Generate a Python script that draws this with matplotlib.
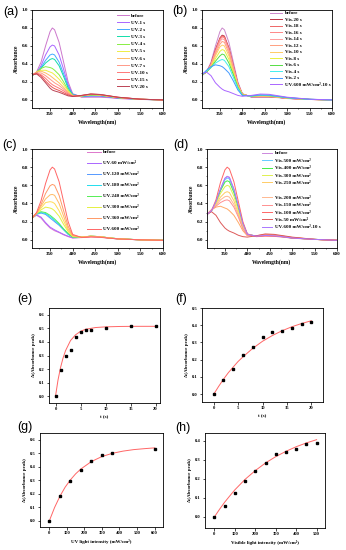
import matplotlib.pyplot as plt
from matplotlib.lines import Line2D
from matplotlib.ticker import MultipleLocator

plt.rcParams['font.family'] = ['Liberation Serif', 'DejaVu Serif']
plt.rcParams['font.weight'] = 'bold'

# wavelength grid (nm) shared by all spectra
wavelength = [310, 320, 330, 340, 350, 355, 360, 370, 380, 390, 400, 420, 440, 460, 480, 500, 550, 600]

# (a) UV irradiation time
a_labels = ['before', 'UV-1 s', 'UV-2 s', 'UV-3 s', 'UV-4 s', 'UV-5 s', 'UV-6 s',
            'UV-7 s', 'UV-10 s', 'UV-15 s', 'UV-20 s']
a_colors = ['#cc77cc', '#aa66ff', '#44aaff', '#11ddaa', '#88ee44', '#eeee44', '#ffbb66',
            '#ff9988', '#ff7777', '#ee5555', '#bb4455']
a_curves = [
    [0.27, 0.31, 0.42, 0.60, 0.76, 0.80, 0.78, 0.64, 0.42, 0.20, 0.07, 0.03, 0.03, 0.03, 0.025, 0.015, 0.005, 0.0],
    [0.27, 0.30, 0.38, 0.50, 0.59, 0.61, 0.60, 0.50, 0.34, 0.17, 0.06, 0.035, 0.04, 0.04, 0.03, 0.02, 0.006, 0.0],
    [0.27, 0.30, 0.36, 0.44, 0.50, 0.51, 0.50, 0.42, 0.29, 0.15, 0.06, 0.04, 0.045, 0.045, 0.035, 0.022, 0.006, 0.0],
    [0.27, 0.30, 0.35, 0.41, 0.45, 0.46, 0.45, 0.38, 0.26, 0.13, 0.055, 0.04, 0.05, 0.05, 0.038, 0.024, 0.007, 0.0],
    [0.27, 0.31, 0.35, 0.37, 0.36, 0.35, 0.33, 0.28, 0.20, 0.11, 0.05, 0.045, 0.055, 0.052, 0.04, 0.025, 0.007, 0.0],
    [0.27, 0.31, 0.33, 0.33, 0.31, 0.30, 0.28, 0.23, 0.17, 0.10, 0.05, 0.045, 0.057, 0.054, 0.04, 0.026, 0.007, 0.0],
    [0.27, 0.31, 0.32, 0.30, 0.27, 0.25, 0.23, 0.19, 0.14, 0.085, 0.045, 0.045, 0.06, 0.056, 0.042, 0.027, 0.007, 0.0],
    [0.28, 0.30, 0.30, 0.27, 0.23, 0.21, 0.19, 0.16, 0.12, 0.075, 0.045, 0.047, 0.062, 0.058, 0.043, 0.028, 0.008, 0.0],
    [0.28, 0.30, 0.28, 0.24, 0.19, 0.17, 0.155, 0.13, 0.10, 0.065, 0.04, 0.048, 0.063, 0.059, 0.044, 0.029, 0.008, 0.0],
    [0.28, 0.29, 0.27, 0.21, 0.16, 0.14, 0.125, 0.105, 0.08, 0.055, 0.04, 0.05, 0.065, 0.06, 0.045, 0.03, 0.008, 0.0],
    [0.28, 0.29, 0.25, 0.19, 0.13, 0.11, 0.10, 0.085, 0.065, 0.045, 0.038, 0.05, 0.066, 0.061, 0.046, 0.03, 0.008, 0.0],
]

# (b) visible light recovery time
b_labels = ['before', 'Vis-20 s', 'Vis-18 s', 'Vis-16 s', 'Vis-14 s', 'Vis-12 s', 'Vis-10 s',
            'Vis-8 s', 'Vis-6 s', 'Vis-4 s', 'Vis-2 s', 'UV-600 mW/cm²-10 s']
b_colors = ['#cc88cc', '#bb3344', '#ee6666', '#ff8888', '#ff9f9f', '#ffa080', '#ffcc66',
            '#e8f040', '#55dd44', '#44eeee', '#4499ff', '#aa66ff']
b_curves = [
    [0.27, 0.31, 0.42, 0.60, 0.76, 0.80, 0.78, 0.64, 0.42, 0.20, 0.07, 0.03, 0.03, 0.03, 0.025, 0.015, 0.005, 0.0],
    [0.28, 0.31, 0.40, 0.56, 0.69, 0.72, 0.71, 0.58, 0.38, 0.18, 0.065, 0.035, 0.035, 0.035, 0.028, 0.017, 0.005, 0.0],
    [0.28, 0.31, 0.40, 0.55, 0.68, 0.71, 0.70, 0.57, 0.37, 0.18, 0.065, 0.035, 0.036, 0.036, 0.029, 0.018, 0.005, 0.0],
    [0.28, 0.31, 0.39, 0.54, 0.67, 0.70, 0.69, 0.56, 0.37, 0.18, 0.065, 0.036, 0.037, 0.037, 0.03, 0.018, 0.005, 0.0],
    [0.28, 0.31, 0.39, 0.53, 0.65, 0.68, 0.67, 0.55, 0.36, 0.17, 0.06, 0.037, 0.04, 0.038, 0.03, 0.019, 0.005, 0.0],
    [0.28, 0.31, 0.38, 0.51, 0.62, 0.65, 0.64, 0.52, 0.34, 0.17, 0.06, 0.038, 0.042, 0.04, 0.031, 0.02, 0.006, 0.0],
    [0.28, 0.31, 0.37, 0.49, 0.59, 0.61, 0.60, 0.49, 0.32, 0.16, 0.06, 0.04, 0.045, 0.042, 0.032, 0.021, 0.006, 0.0],
    [0.28, 0.31, 0.36, 0.46, 0.54, 0.56, 0.55, 0.45, 0.30, 0.15, 0.055, 0.04, 0.048, 0.045, 0.034, 0.022, 0.006, 0.0],
    [0.28, 0.31, 0.36, 0.43, 0.49, 0.51, 0.50, 0.41, 0.28, 0.14, 0.055, 0.042, 0.05, 0.047, 0.036, 0.023, 0.006, 0.0],
    [0.28, 0.32, 0.36, 0.41, 0.44, 0.45, 0.44, 0.37, 0.25, 0.13, 0.05, 0.043, 0.053, 0.05, 0.038, 0.025, 0.007, 0.0],
    [0.28, 0.33, 0.37, 0.39, 0.38, 0.37, 0.35, 0.30, 0.21, 0.11, 0.05, 0.045, 0.056, 0.053, 0.04, 0.026, 0.007, 0.0],
    [0.29, 0.31, 0.27, 0.19, 0.14, 0.12, 0.105, 0.09, 0.07, 0.05, 0.04, 0.05, 0.065, 0.062, 0.046, 0.03, 0.008, 0.0],
]

# (c) UV light intensity (None = not in legend)
c_labels = ['before', 'UV-60 mW/cm²', 'UV-120 mW/cm²', 'UV-180 mW/cm²', 'UV-240 mW/cm²',
            'UV-300 mW/cm²', None, None, 'UV-360 mW/cm²', 'UV-600 mW/cm²']
c_colors = ['#dd77cc', '#aa66ff', '#5599ff', '#22ddee', '#55ee55', '#e5f040', '#ffdd55',
            '#ffbb66', '#ff9966', '#ff6666']
c_curves = [
    [0.24, 0.27, 0.24, 0.18, 0.13, 0.115, 0.10, 0.08, 0.055, 0.035, 0.02, 0.025, 0.035, 0.03, 0.02, 0.01, 0.0, -0.005],
    [0.24, 0.275, 0.25, 0.19, 0.14, 0.125, 0.11, 0.085, 0.06, 0.04, 0.022, 0.026, 0.037, 0.032, 0.02, 0.01, 0.0, -0.005],
    [0.24, 0.28, 0.295, 0.28, 0.24, 0.22, 0.20, 0.16, 0.11, 0.06, 0.03, 0.03, 0.04, 0.035, 0.022, 0.012, 0.0, -0.005],
    [0.24, 0.285, 0.30, 0.29, 0.255, 0.235, 0.215, 0.17, 0.115, 0.065, 0.03, 0.03, 0.04, 0.035, 0.022, 0.012, 0.0, -0.005],
    [0.24, 0.29, 0.31, 0.30, 0.27, 0.25, 0.23, 0.18, 0.12, 0.07, 0.03, 0.03, 0.04, 0.035, 0.022, 0.012, 0.0, -0.005],
    [0.24, 0.29, 0.33, 0.36, 0.35, 0.34, 0.32, 0.26, 0.17, 0.09, 0.035, 0.03, 0.04, 0.035, 0.022, 0.012, 0.0, -0.005],
    [0.24, 0.29, 0.35, 0.41, 0.42, 0.415, 0.40, 0.32, 0.21, 0.10, 0.04, 0.03, 0.04, 0.035, 0.022, 0.012, 0.0, -0.005],
    [0.24, 0.29, 0.37, 0.45, 0.495, 0.50, 0.49, 0.40, 0.26, 0.12, 0.045, 0.03, 0.04, 0.035, 0.022, 0.012, 0.0, -0.005],
    [0.24, 0.29, 0.39, 0.51, 0.595, 0.61, 0.60, 0.49, 0.32, 0.15, 0.05, 0.028, 0.037, 0.033, 0.02, 0.01, 0.0, -0.005],
    [0.24, 0.30, 0.43, 0.62, 0.77, 0.80, 0.78, 0.64, 0.42, 0.20, 0.06, 0.025, 0.03, 0.028, 0.018, 0.01, 0.0, -0.005],
]

# (d) visible light intensity ('' = blank legend row)
d_labels = ['before', 'Vis-500 mW/cm²', 'Vis-400 mW/cm²', 'Vis-300 mW/cm²', 'Vis-250 mW/cm²', '',
            'Vis-200 mW/cm²', 'Vis-150 mW/cm²', 'Vis-100 mW/cm²', 'Vis-50 mW/cm²', 'UV-600 mW/cm²-10 s']
d_colors = ['#cc88dd', '#66ccff', '#44ee44', '#e0f050', '#ffcc66', '#ffaa66',
            '#ffb890', '#ff9090', '#ff6666', '#dd5a5a', '#aa77ff']
d_curves = [
    [0.28, 0.32, 0.42, 0.56, 0.68, 0.70, 0.69, 0.56, 0.37, 0.18, 0.063, 0.04, 0.048, 0.044, 0.033, 0.02, 0.005, -0.005],
    [0.28, 0.32, 0.41, 0.55, 0.66, 0.68, 0.67, 0.55, 0.36, 0.175, 0.062, 0.04, 0.049, 0.045, 0.034, 0.02, 0.005, -0.005],
    [0.28, 0.32, 0.41, 0.54, 0.635, 0.65, 0.64, 0.52, 0.35, 0.17, 0.06, 0.04, 0.05, 0.046, 0.035, 0.021, 0.005, -0.005],
    [0.28, 0.32, 0.40, 0.51, 0.585, 0.60, 0.59, 0.48, 0.32, 0.16, 0.06, 0.042, 0.052, 0.048, 0.036, 0.022, 0.005, -0.005],
    [0.28, 0.33, 0.39, 0.47, 0.52, 0.53, 0.52, 0.43, 0.29, 0.14, 0.055, 0.043, 0.054, 0.05, 0.037, 0.023, 0.005, -0.005],
    [0.28, 0.33, 0.36, 0.37, 0.35, 0.34, 0.32, 0.27, 0.19, 0.10, 0.045, 0.045, 0.058, 0.053, 0.04, 0.026, 0.005, -0.005],
    [0.28, 0.33, 0.38, 0.44, 0.475, 0.48, 0.47, 0.39, 0.27, 0.13, 0.05, 0.044, 0.055, 0.05, 0.038, 0.024, 0.005, -0.005],
    [0.28, 0.33, 0.37, 0.41, 0.435, 0.44, 0.43, 0.36, 0.25, 0.12, 0.05, 0.045, 0.056, 0.052, 0.04, 0.025, 0.005, -0.005],
    [0.28, 0.32, 0.44, 0.63, 0.77, 0.80, 0.78, 0.64, 0.42, 0.20, 0.065, 0.035, 0.04, 0.038, 0.03, 0.018, 0.004, -0.005],
    [0.28, 0.31, 0.27, 0.19, 0.13, 0.11, 0.095, 0.075, 0.05, 0.035, 0.03, 0.045, 0.065, 0.06, 0.045, 0.03, 0.005, -0.005],
    [0.28, 0.32, 0.42, 0.555, 0.675, 0.695, 0.685, 0.555, 0.365, 0.178, 0.062, 0.04, 0.048, 0.044, 0.033, 0.02, 0.005, -0.005],
]

# (e)-(h) peak change vs time / intensity, with fitted curves
e_t = [0, 1, 2, 3, 4, 5, 6, 7, 10, 15, 20]
e_dA = [0.0, 0.19, 0.295, 0.34, 0.435, 0.47, 0.485, 0.49, 0.50, 0.515, 0.515]
e_fit_t = [0, 0.5, 1, 1.5, 2, 3, 4, 5, 6, 8, 10, 13, 16, 20]
e_fit_dA = [0.0, 0.119, 0.21, 0.28, 0.335, 0.41, 0.452, 0.478, 0.493, 0.506, 0.511, 0.514, 0.515, 0.515]

f_t = [0, 2, 4, 6, 8, 10, 12, 14, 16, 18, 20]
f_dA = [0.0, 0.08, 0.145, 0.23, 0.275, 0.33, 0.36, 0.365, 0.385, 0.41, 0.42]
f_fit_t = [0, 1, 2, 3, 4, 5, 6, 8, 10, 12, 14, 16, 18, 20]
f_fit_dA = [0.0, 0.045, 0.087, 0.125, 0.158, 0.19, 0.217, 0.266, 0.307, 0.34, 0.368, 0.391, 0.41, 0.426]

g_I = [0, 60, 120, 180, 240, 300, 360, 600]
g_dA = [0.0, 0.185, 0.295, 0.38, 0.44, 0.49, 0.505, 0.53]
g_fit_I = [0, 30, 60, 90, 120, 150, 180, 240, 300, 360, 420, 480, 540, 600]
g_fit_dA = [0.0, 0.099, 0.181, 0.249, 0.303, 0.348, 0.384, 0.439, 0.476, 0.5, 0.516, 0.527, 0.534, 0.54]

h_I = [0, 50, 100, 150, 200, 250, 300, 350, 400, 450, 500]
h_dA = [0.0, 0.058, 0.125, 0.188, 0.24, 0.285, 0.332, 0.343, 0.358, 0.38, 0.387]
h_fit_I = [0, 25, 50, 75, 100, 150, 200, 250, 300, 350, 400, 450, 500]
h_fit_dA = [0.0, 0.04, 0.077, 0.11, 0.142, 0.197, 0.243, 0.283, 0.316, 0.344, 0.368, 0.388, 0.405]

W, H = 346, 550


def box(l, t, r, b):
    return [l / W, 1 - b / H, (r - l) / W, (b - t) / H]


def style(ax, fs=3.7):
    for s in ax.spines.values():
        s.set_linewidth(0.6)
    ax.tick_params(direction='out', length=1.8, width=0.5, labelsize=fs, pad=1.2)
    ax.tick_params(which='minor', direction='out', length=1.0, width=0.4)
    for lab in ax.get_xticklabels() + ax.get_yticklabels():
        lab.set_fontweight('bold')


def spectra(ax, curves, labels, colors, anchor, spacing, hlen):
    handles, names = [], []
    for y, lab, col in zip(curves, labels, colors):
        line, = ax.plot(wavelength, y, color=col, lw=0.7)
        if lab is None:
            continue
        if lab == '':
            handles.append(Line2D([], [], color='none'))
        else:
            handles.append(line)
        names.append(lab)
    ax.set_xlim(310, 600)
    ax.set_ylim(-0.09, 1.0)
    ax.xaxis.set_minor_locator(MultipleLocator(25))
    ax.yaxis.set_minor_locator(MultipleLocator(0.1))
    ax.set_xticks([350, 400, 450, 500, 550, 600])
    ax.set_yticks([0.0, 0.2, 0.4, 0.6, 0.8, 1.0])
    ax.set_xlabel('Wavelength(nm)', fontsize=4, fontweight='bold', labelpad=2.5)
    ax.set_ylabel('Absorbance', fontsize=4, fontweight='bold', labelpad=2)
    style(ax)
    leg = ax.legend(handles, names, loc='upper left', bbox_to_anchor=anchor, frameon=False,
                    fontsize=3.6, labelspacing=spacing, handlelength=hlen, handletextpad=0.5,
                    borderpad=0, borderaxespad=0)
    for t in leg.get_texts():
        t.set_fontweight('bold')


def kinetics(ax, x, y, fx, fy, xlim, ylim, xt, yt, xlabel):
    ax.plot(fx, fy, color='#ff6666', lw=0.7)
    ax.plot(x, y, 's', color='black', ms=2.0)
    ax.set_xlim(*xlim)
    ax.set_ylim(*ylim)
    ax.set_xticks(xt)
    ax.set_yticks(yt)
    ax.set_xlabel(xlabel, fontsize=3.6, fontweight='bold', labelpad=2.5)
    ax.set_ylabel('Δ(Absorbance peak)', fontsize=3.6, fontweight='bold', labelpad=2)
    style(ax, fs=3.3)


fig = plt.figure(figsize=(3.46, 5.5), dpi=100)

ax_a = fig.add_axes(box(32, 10, 163, 108))
spectra(ax_a, a_curves, a_labels, a_colors, (0.65, 0.965), 0.52, 2.3)
ax_b = fig.add_axes(box(202, 10, 332, 108))
spectra(ax_b, b_curves, b_labels, b_colors, (0.52, 0.99), 0.4, 2.5)
ax_c = fig.add_axes(box(32, 149, 163, 248))
spectra(ax_c, c_curves, c_labels, c_colors, (0.42, 0.99), 1.3, 2.7)
ax_d = fig.add_axes(box(207, 149, 337, 248))
spectra(ax_d, d_curves, d_labels, d_colors, (0.42, 0.98), 0.58, 2.1)

ax_e = fig.add_axes(box(49, 308, 160, 403))
kinetics(ax_e, e_t, e_dA, e_fit_t, e_fit_dA, (-1.3, 20.9), (-0.05, 0.65),
         [0, 5, 10, 15, 20], [0.0, 0.1, 0.2, 0.3, 0.4, 0.5, 0.6], 't (s)')
ax_f = fig.add_axes(box(202, 308, 323, 402))
kinetics(ax_f, f_t, f_dA, f_fit_t, f_fit_dA, (-2.4, 22.4), (-0.045, 0.5),
         [0, 5, 10, 15, 20], [0.0, 0.1, 0.2, 0.3, 0.4, 0.5], 't (s)')
ax_g = fig.add_axes(box(40, 433, 163, 527))
kinetics(ax_g, g_I, g_dA, g_fit_I, g_fit_dA, (-53, 648), (-0.045, 0.65),
         [0, 100, 200, 300, 400, 500, 600], [0.0, 0.1, 0.2, 0.3, 0.4, 0.5, 0.6],
         'UV light intensity (mW/cm²)')
ax_h = fig.add_axes(box(205, 433, 325, 528))
kinetics(ax_h, h_I, h_dA, h_fit_I, h_fit_dA, (-46, 541), (-0.058, 0.44),
         [0, 100, 200, 300, 400, 500], [0.0, 0.1, 0.2, 0.3, 0.4],
         'Visible light intensity (mW/cm²)')

# panel letters
for letter, px, py in [('(a)', 3, 12), ('(b)', 172, 11), ('(c)', 2, 145), ('(d)', 173, 145),
                       ('(e)', 17, 299), ('(f)', 175, 299), ('(g)', 17, 427), ('(h)', 175, 428)]:
    fig.text(px / W, 1 - py / H, letter, fontsize=9, family='Liberation Sans',
             fontweight='normal', ha='left', va='center')

fig.savefig('out.png', dpi=100)
